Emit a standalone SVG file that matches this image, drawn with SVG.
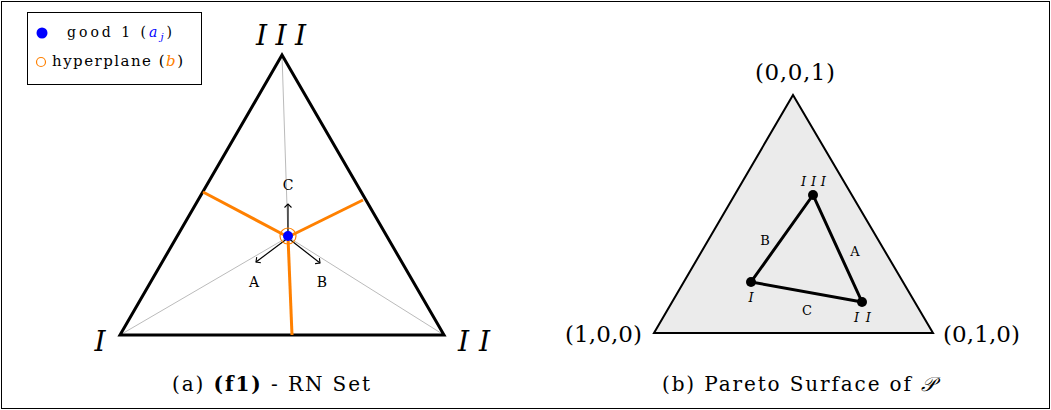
<svg xmlns="http://www.w3.org/2000/svg" width="1051" height="410" viewBox="0 0 1051 410">
<defs>
<style>
text{font-family:"DejaVu Serif","Liberation Serif",serif;fill:#000}
.it{font-style:italic}
.tri{fill:none;stroke:#000;stroke-width:3;stroke-linejoin:miter}
.gray{stroke:#bbb;stroke-width:1;fill:none}
.hp{stroke:#ff8000;stroke-width:3;fill:none}
.ax{stroke:#000;stroke-width:1.2;fill:none}
.ps{stroke:#000;stroke-width:3;fill:none}
</style>
<marker id="ah" viewBox="-5 -5 10 10" markerWidth="10" markerHeight="10" refX="0" refY="0" orient="auto" markerUnits="userSpaceOnUse">
<path d="M-3.5,-3.5 L0,0 L-3.5,3.5" fill="none" stroke="#000" stroke-width="1.1"/>
</marker>
</defs>
<rect x="0" y="0" width="1051" height="410" fill="#fff"/>
<rect x="1.5" y="1.5" width="1048" height="407" fill="none" stroke="#000" stroke-width="1"/>

<g id="legend">
<rect x="27.5" y="12.5" width="174" height="72" fill="#fff" stroke="#000" stroke-width="1"/>
<circle cx="42" cy="33" r="5.5" fill="#0000ff"/>
<text x="67" y="37" font-size="14" textLength="105" lengthAdjust="spacing">good 1 (<tspan class="it" fill="#0000ff">a</tspan><tspan class="it" fill="#0000ff" font-size="10" dy="3">j</tspan><tspan dy="-3">)</tspan></text>
<circle cx="41" cy="62" r="4.5" fill="none" stroke="#ff8000" stroke-width="1.2"/>
<text x="52" y="66" font-size="15" textLength="131" lengthAdjust="spacing">hyperplane (<tspan class="it" fill="#ff8000">b</tspan>)</text>
</g>

<g id="simplex-a">
<line class="gray" x1="120" y1="335" x2="288" y2="237"/>
<line class="gray" x1="444" y1="335" x2="288" y2="237"/>
<line class="gray" x1="282" y1="55" x2="288" y2="237"/>
<polygon class="tri" points="120,335 444,335 282,55"/>
<text class="it" x="256" y="45" font-size="28" textLength="50" lengthAdjust="spacing">III</text>
<text class="it" x="100" y="351" font-size="28" text-anchor="middle">I</text>
<text class="it" x="458" y="351" font-size="28" textLength="32" lengthAdjust="spacing">II</text>
</g>

<g id="hyperplane">
<line class="hp" x1="288" y1="237" x2="203" y2="192"/>
<line class="hp" x1="288" y1="237" x2="363" y2="200"/>
<line class="hp" x1="288" y1="237" x2="292" y2="335"/>
</g>

<g id="axes">
<line class="ax" x1="288" y1="238" x2="288" y2="204" marker-end="url(#ah)"/>
<line class="ax" x1="288" y1="238" x2="256" y2="262" marker-end="url(#ah)"/>
<line class="ax" x1="288" y1="238" x2="320" y2="263" marker-end="url(#ah)"/>
<text x="288" y="190" font-size="14" text-anchor="middle">C</text>
<text x="254" y="287" font-size="14" text-anchor="middle">A</text>
<text x="322" y="287" font-size="14" text-anchor="middle">B</text>
</g>

<g id="point-a">
<circle cx="288" cy="236" r="8" fill="none" stroke="#ff8000" stroke-width="1.2"/>
<circle cx="288" cy="236" r="5" fill="#0000ff"/>
</g>

<g id="simplex-b">
<polygon points="654,333 933,333 793,95" fill="#ebebeb" stroke="#000" stroke-width="2"/>
<text x="755" y="80" font-size="23" textLength="80" lengthAdjust="spacing">(0,0,1)</text>
<text x="565" y="342" font-size="23" textLength="77" lengthAdjust="spacing">(1,0,0)</text>
<text x="943" y="342" font-size="23" textLength="77" lengthAdjust="spacing">(0,1,0)</text>
</g>

<g id="pareto">
<polygon class="ps" points="813,195 751,282 862,302"/>
<circle cx="813" cy="195" r="5" fill="#000"/>
<circle cx="751" cy="282" r="5" fill="#000"/>
<circle cx="862" cy="302" r="5" fill="#000"/>
<text class="it" x="801" y="186" font-size="13" textLength="25" lengthAdjust="spacing">III</text>
<text class="it" x="751" y="302" font-size="13" text-anchor="middle">I</text>
<text class="it" x="854" y="322" font-size="13" textLength="17" lengthAdjust="spacing">II</text>
<text x="765" y="245" font-size="13" text-anchor="middle">B</text>
<text x="855" y="256" font-size="13" text-anchor="middle">A</text>
<text x="807" y="315" font-size="13" text-anchor="middle">C</text>
</g>

<g id="captions">
<text x="172" y="391" font-size="20" textLength="198" lengthAdjust="spacing">(a) <tspan font-weight="bold">(f1)</tspan> - RN Set</text>
<text x="662" y="391" font-size="20" textLength="273" lengthAdjust="spacing">(b) Pareto Surface of <tspan class="it">𝒫</tspan></text>
</g>
</svg>
